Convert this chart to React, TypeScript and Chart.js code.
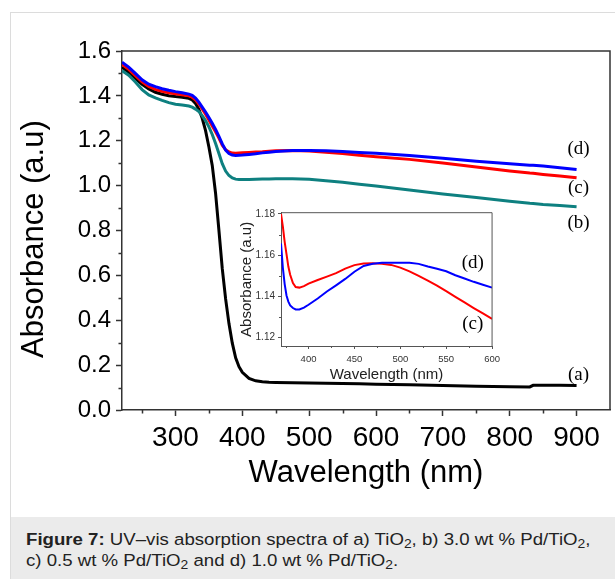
import React, { useEffect, useRef } from 'react';
import { Chart, registerables } from 'chart.js';

Chart.register(...registerables);

// ---------- Main chart data ----------
const WAVELENGTH = [220, 230, 240, 250, 260, 270, 280, 290, 300, 310, 320, 325, 330, 335, 340, 345, 350, 355, 360, 365, 370, 375, 380, 385, 390, 395, 400, 410, 420, 430, 440, 450, 475, 500, 525, 550, 575, 600, 650, 700, 750, 800, 830, 835, 850, 875, 900];

// (a) TiO2 - black
const ABS_A = [1.528, 1.505, 1.478, 1.452, 1.431, 1.416, 1.407, 1.401, 1.397, 1.394, 1.389, 1.382, 1.366, 1.340, 1.300, 1.245, 1.172, 1.090, 0.965, 0.800, 0.630, 0.495, 0.385, 0.298, 0.233, 0.193, 0.168, 0.141, 0.130, 0.126, 0.124, 0.123, 0.121, 0.120, 0.119, 0.118, 0.117, 0.115, 0.112, 0.109, 0.106, 0.104, 0.103, 0.110, 0.110, 0.110, 0.109];
// (b) 3.0 wt % Pd/TiO2 - teal
const ABS_B = [1.512, 1.492, 1.462, 1.428, 1.404, 1.391, 1.380, 1.370, 1.363, 1.359, 1.355, 1.350, 1.341, 1.330, 1.312, 1.290, 1.262, 1.228, 1.188, 1.143, 1.098, 1.065, 1.045, 1.034, 1.029, 1.027, 1.027, 1.027, 1.028, 1.029, 1.030, 1.031, 1.031, 1.028, 1.022, 1.015, 1.006, 0.998, 0.980, 0.963, 0.947, 0.930, 0.921, 0.920, 0.916, 0.911, 0.906];
// (c) 0.5 wt % Pd/TiO2 - red
const ABS_C = [1.540, 1.518, 1.490, 1.463, 1.442, 1.429, 1.420, 1.414, 1.409, 1.405, 1.400, 1.394, 1.382, 1.364, 1.342, 1.318, 1.292, 1.266, 1.240, 1.212, 1.180, 1.160, 1.150, 1.145, 1.144, 1.145, 1.146, 1.148, 1.150, 1.151, 1.153, 1.155, 1.156, 1.154, 1.149, 1.143, 1.135, 1.129, 1.117, 1.101, 1.083, 1.065, 1.056, 1.055, 1.050, 1.043, 1.035];
// (d) 1.0 wt % Pd/TiO2 - blue
const ABS_D = [1.550, 1.528, 1.500, 1.472, 1.452, 1.441, 1.432, 1.425, 1.419, 1.414, 1.408, 1.402, 1.390, 1.372, 1.350, 1.328, 1.303, 1.278, 1.250, 1.220, 1.186, 1.158, 1.143, 1.136, 1.134, 1.135, 1.136, 1.139, 1.142, 1.146, 1.149, 1.152, 1.156, 1.156, 1.155, 1.152, 1.148, 1.144, 1.134, 1.122, 1.109, 1.098, 1.091, 1.091, 1.087, 1.080, 1.072];

const X_TICKS = [300, 400, 500, 600, 700, 800, 900];
const X_MINOR = [250, 350, 450, 550, 650, 750, 850];
const Y_TICKS = [0, 0.2, 0.4, 0.6, 0.8, 1.0, 1.2, 1.4, 1.6];
const Y_MINOR = [0.1, 0.3, 0.5, 0.7, 0.9, 1.1, 1.3, 1.5];

const CURVE_LABELS = ['(a)', '(b)', '(c)', '(d)'];
const CURVE_LABEL_X = [903, 903, 903, 903];
const CURVE_LABEL_Y = [0.158, 0.832, 0.988, 1.165];

// ---------- Inset data ----------
const INSET_WAVELENGTH = [370, 372, 374, 376, 378, 380, 383, 386, 390, 395, 400, 410, 420, 430, 440, 450, 460, 470, 480, 490, 500, 510, 520, 530, 540, 550, 560, 570, 580, 590, 600];
const INSET_C = [1.1800, 1.1740, 1.1665, 1.1605, 1.1545, 1.1505, 1.1465, 1.1446, 1.1443, 1.1450, 1.1462, 1.1480, 1.1496, 1.1513, 1.1535, 1.1552, 1.1560, 1.1561, 1.1558, 1.1553, 1.1540, 1.1522, 1.1500, 1.1477, 1.1453, 1.1426, 1.1398, 1.1371, 1.1344, 1.1318, 1.1292];
const INSET_D = [1.1657, 1.1540, 1.1460, 1.1405, 1.1375, 1.1357, 1.1344, 1.1337, 1.1337, 1.1346, 1.1360, 1.1390, 1.1424, 1.1454, 1.1485, 1.1520, 1.1548, 1.1559, 1.1563, 1.1563, 1.1563, 1.1563, 1.1558, 1.1545, 1.1534, 1.1522, 1.1503, 1.1487, 1.1471, 1.1457, 1.1443];

const INSET_X_TICKS = [400, 450, 500, 550, 600];
const INSET_X_MINOR = [375, 425, 475, 525, 575];
const INSET_Y_TICKS = [1.12, 1.14, 1.16, 1.18];
const INSET_Y_MINOR = [1.13, 1.15, 1.17];

const INSET_LABELS = ['(c)', '(d)'];
const INSET_LABEL_X = [579, 579];
const INSET_LABEL_Y = [1.1268, 1.1561];

const SANS = "'Liberation Sans', Arial, Helvetica, sans-serif";
const SERIF = "'Liberation Serif', 'Times New Roman', serif";

function toPoints(xs: number[], ys: number[]) {
  return xs.map((x, i) => ({ x, y: ys[i] }));
}

function decorPlugin(cfg: any) {
  return {
    id: 'decor',
    afterDatasetsDraw(chart: any) {
      const { ctx, chartArea: a, scales } = chart;
      const x = scales.x;
      const y = scales.y;
      ctx.save();
      ctx.strokeStyle = cfg.axisColor;
      ctx.lineWidth = cfg.axisWidth;
      ctx.beginPath();
      ctx.moveTo(a.left, a.top);
      ctx.lineTo(a.right, a.top);
      ctx.lineTo(a.right, a.bottom);
      ctx.stroke();
      ctx.lineWidth = cfg.tickWidth;
      ctx.beginPath();
      cfg.xMinor.forEach((v: number) => {
        const px = Math.round(x.getPixelForValue(v)) + 0.5;
        ctx.moveTo(px, a.bottom);
        ctx.lineTo(px, a.bottom + cfg.minorLen);
      });
      cfg.yMinor.forEach((v: number) => {
        const py = Math.round(y.getPixelForValue(v)) + 0.5;
        ctx.moveTo(a.left, py);
        ctx.lineTo(a.left - cfg.minorLen, py);
      });
      ctx.stroke();
      ctx.fillStyle = '#000';
      ctx.font = cfg.labelFont;
      ctx.textAlign = 'center';
      ctx.textBaseline = 'middle';
      cfg.labels.forEach((t: string, i: number) => {
        ctx.fillText(t, x.getPixelForValue(cfg.labelX[i]), y.getPixelForValue(cfg.labelY[i]));
      });
      ctx.restore();
    },
  };
}

function mainConfig(): any {
  return {
    type: 'line',
    data: {
      datasets: [
        { label: '(d)', data: toPoints(WAVELENGTH, ABS_D), borderColor: '#0000ff' },
        { label: '(c)', data: toPoints(WAVELENGTH, ABS_C), borderColor: '#ff0000' },
        { label: '(b)', data: toPoints(WAVELENGTH, ABS_B), borderColor: '#0e8080' },
        { label: '(a)', data: toPoints(WAVELENGTH, ABS_A), borderColor: '#000000' },
      ],
    },
    options: {
      animation: false,
      responsive: false,
      devicePixelRatio: 1,
      layout: { padding: { left: 0, top: 51, right: 5, bottom: 0 } },
      plugins: { legend: { display: false }, tooltip: { enabled: false } },
      elements: { point: { radius: 0 }, line: { borderWidth: 3, tension: 0, fill: false } },
      scales: {
        x: {
          type: 'linear',
          min: 220,
          max: 950,
          afterBuildTicks: (s: any) => { s.ticks = X_TICKS.map((v) => ({ value: v })); },
          afterFit: (s: any) => { s.height = 90; },
          grid: { drawOnChartArea: false, drawTicks: true, tickLength: 6, tickColor: '#333', tickWidth: 1.5 },
          border: { display: true, color: '#333', width: 1.5 },
          ticks: { color: '#000', font: { family: SANS, size: 28 }, padding: 5, maxRotation: 0, autoSkip: false, callback: (v: any) => String(v) },
          title: { display: true, text: 'Wavelength (nm)', color: '#000', font: { family: SANS, size: 31 }, padding: { top: 0, bottom: 8 } },
        },
        y: {
          type: 'linear',
          min: 0,
          max: 1.6,
          afterBuildTicks: (s: any) => { s.ticks = Y_TICKS.map((v) => ({ value: v })); },
          afterFit: (s: any) => { s.width = 122; },
          grid: { drawOnChartArea: false, drawTicks: true, tickLength: 6, tickColor: '#333', tickWidth: 1.5 },
          border: { display: true, color: '#333', width: 1.5 },
          ticks: { color: '#000', font: { family: SANS, size: 24 }, padding: 5, callback: (v: any) => Number(v).toFixed(1) },
          title: { display: true, text: 'Absorbance (a.u)  ', color: '#000', font: { family: SANS, size: 31 }, padding: { top: 16, bottom: 0 } },
        },
      },
    },
    plugins: [
      decorPlugin({
        axisColor: '#333', axisWidth: 1.5, tickWidth: 1.5, minorLen: 3.5,
        xMinor: X_MINOR, yMinor: Y_MINOR,
        labels: CURVE_LABELS, labelX: CURVE_LABEL_X, labelY: CURVE_LABEL_Y,
        labelFont: `19px ${SERIF}`,
      }),
    ],
  };
}

function insetConfig(): any {
  return {
    type: 'line',
    data: {
      datasets: [
        { label: '(d)', data: toPoints(INSET_WAVELENGTH, INSET_D), borderColor: '#0000ff' },
        { label: '(c)', data: toPoints(INSET_WAVELENGTH, INSET_C), borderColor: '#ff0000' },
      ],
    },
    options: {
      animation: false,
      responsive: false,
      devicePixelRatio: 1,
      layout: { padding: { left: 0, top: 17.7, right: 7, bottom: 0 } },
      plugins: { legend: { display: false }, tooltip: { enabled: false } },
      elements: { point: { radius: 0 }, line: { borderWidth: 2, tension: 0, fill: false } },
      scales: {
        x: {
          type: 'linear',
          min: 370,
          max: 600,
          afterBuildTicks: (s: any) => { s.ticks = INSET_X_TICKS.map((v) => ({ value: v })); },
          afterFit: (s: any) => { s.height = 44; },
          grid: { drawOnChartArea: false, drawTicks: true, tickLength: 3, tickColor: '#555', tickWidth: 1 },
          border: { display: true, color: '#555', width: 1 },
          ticks: { color: '#333', font: { family: SANS, size: 9.5 }, padding: 5, maxRotation: 0, autoSkip: false, callback: (v: any) => String(v) },
          title: { display: true, text: 'Wavelength (nm)', color: '#222', font: { family: SANS, size: 15 }, padding: { top: 0, bottom: 6 } },
        },
        y: {
          type: 'linear',
          min: 1.116,
          max: 1.1806,
          afterBuildTicks: (s: any) => { s.ticks = INSET_Y_TICKS.map((v) => ({ value: v })); },
          afterFit: (s: any) => { s.width = 66; },
          grid: { drawOnChartArea: false, drawTicks: true, tickLength: 3, tickColor: '#555', tickWidth: 1 },
          border: { display: true, color: '#555', width: 1 },
          ticks: { color: '#333', font: { family: SANS, size: 10 }, padding: 3, callback: (v: any) => Number(v).toFixed(2) },
          title: { display: true, text: 'Absorbance (a.u)', color: '#222', font: { family: SANS, size: 15 }, padding: { top: 23, bottom: 0 } },
        },
      },
    },
    plugins: [
      decorPlugin({
        axisColor: '#555', axisWidth: 1, tickWidth: 1, minorLen: 2,
        xMinor: INSET_X_MINOR, yMinor: INSET_Y_MINOR,
        labels: INSET_LABELS, labelX: INSET_LABEL_X, labelY: INSET_LABEL_Y,
        labelFont: `19px ${SERIF}`,
      }),
    ],
  };
}

const subStyle: React.CSSProperties = { fontSize: 12.5, verticalAlign: '-3px', lineHeight: 0 };

export default function App() {
  const mainRef = useRef<HTMLCanvasElement>(null);
  const insetRef = useRef<HTMLCanvasElement>(null);

  useEffect(() => {
    const main = new Chart(mainRef.current as HTMLCanvasElement, mainConfig());
    const inset = new Chart(insetRef.current as HTMLCanvasElement, insetConfig());
    return () => {
      main.destroy();
      inset.destroy();
    };
  }, []);

  return (
    <div style={{ position: 'fixed', left: 0, top: 0, width: 615, height: 579, overflow: 'hidden', background: '#fff' }}>
      <div style={{ position: 'absolute', left: 10, top: 12, width: 700, height: 700, border: '1px solid #dcdcdc', boxSizing: 'border-box' }} />
      <canvas ref={mainRef} width={615} height={500} style={{ position: 'absolute', left: 0, top: 0, width: 615, height: 500 }} />
      <canvas ref={insetRef} width={290} height={195} style={{ position: 'absolute', left: 215, top: 195, width: 290, height: 195 }} />
      <div style={{ position: 'absolute', left: 11, top: 517, width: 604, height: 62, background: '#ebebeb' }}>
        <div
          style={{
            position: 'absolute', left: 15, top: 11.5, fontFamily: SANS, fontSize: 16.8,
            lineHeight: '21.5px', color: '#222', whiteSpace: 'nowrap',
            transform: 'scaleX(1.11)', transformOrigin: '0 0',
          }}
        >
          <b>Figure 7:</b> UV–vis absorption spectra of a) TiO<sub style={subStyle}>2</sub>, b) 3.0 wt % Pd/TiO<sub style={subStyle}>2</sub>,
          <br />
          c) 0.5 wt % Pd/TiO<sub style={subStyle}>2</sub> and d) 1.0 wt % Pd/TiO<sub style={subStyle}>2</sub>.
        </div>
      </div>
    </div>
  );
}
